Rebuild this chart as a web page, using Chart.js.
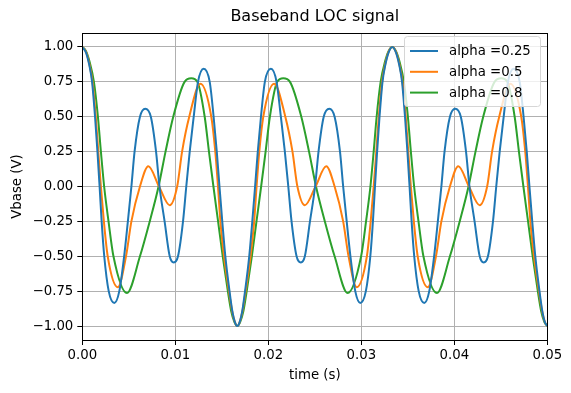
<!DOCTYPE html>
<html>
<head>
<meta charset="utf-8">
<script src="https://cdn.jsdelivr.net/npm/chart.js@4.4.0/dist/chart.umd.min.js"></script>
<style>
  html, body { margin: 0; padding: 0; background: #fff; }
  canvas { display: block; }
</style>
</head>
<body>
<canvas id="chart" width="571" height="393"></canvas>
<script>
const seriesLabels = ["alpha =0.25", "alpha =0.5", "alpha =0.8"];
const seriesColors = ["#1f77b4", "#ff7f0e", "#2ca02c"];

// time in ms
const timeA = [0, 0.4, 0.75, 1.05, 1.37, 1.63, 1.86, 2.08, 2.36, 2.84, 3.44, 3.98, 4.5, 4.9, 5.28, 5.62, 6.2, 6.77, 7.37, 7.93, 8.3, 8.85, 9.4, 9.83, 10.29, 10.83, 11.18, 11.55, 11.98, 12.44, 13.05, 13.7, 14.12, 14.46, 14.75, 15.05, 15.38, 15.83, 16.1, 16.4, 16.67,
  16.93, 17.23, 17.5, 17.95, 18.28, 18.58, 18.87, 19.21, 19.63, 20.28, 20.89, 21.35, 21.78, 22.15, 22.5, 23.04, 23.5, 23.93, 24.48, 25.03, 25.4, 25.96, 26.56, 27.13, 27.71, 28.05, 28.43, 28.83, 29.35, 29.89, 30.49, 30.97, 31.25, 31.47, 31.7, 31.96, 32.28, 32.58, 32.93, 33.33,
  33.73, 34.08, 34.38, 34.7, 34.96, 35.19, 35.41, 35.69, 36.17, 36.77, 37.31, 37.83, 38.23, 38.61, 38.95, 39.53, 40.1, 40.7, 41.26, 41.63, 42.18, 42.73, 43.16, 43.62, 44.16, 44.51, 44.88, 45.31, 45.77, 46.38, 47.03, 47.45, 47.79, 48.08, 48.38, 48.71, 49.16, 49.43, 49.73, 50];
const valuesA = [1, 0.96, 0.87, 0.75, 0.5, 0.25, 0, -0.25, -0.5, -0.75, -0.835, -0.75, -0.5, -0.25, 0, 0.25, 0.5, 0.558, 0.5, 0.25, 0, -0.25, -0.5, -0.544, -0.5, -0.25, 0, 0.25, 0.5, 0.75, 0.844, 0.75, 0.5, 0.25, 0, -0.25, -0.5, -0.75, -0.88, -0.97, -1,
  -0.97, -0.88, -0.75, -0.5, -0.25, 0, 0.25, 0.5, 0.75, 0.844, 0.75, 0.5, 0.25, 0, -0.25, -0.5, -0.544, -0.5, -0.25, 0, 0.25, 0.5, 0.558, 0.5, 0.25, 0, -0.25, -0.5, -0.75, -0.835, -0.75, -0.5, -0.25, 0, 0.25, 0.5, 0.75, 0.87, 0.96, 1,
  0.96, 0.87, 0.75, 0.5, 0.25, 0, -0.25, -0.5, -0.75, -0.835, -0.75, -0.5, -0.25, 0, 0.25, 0.5, 0.558, 0.5, 0.25, 0, -0.25, -0.5, -0.544, -0.5, -0.25, 0, 0.25, 0.5, 0.75, 0.844, 0.75, 0.5, 0.25, 0, -0.25, -0.5, -0.75, -0.88, -0.97, -1];

const timeB = [0, 0.4, 0.75, 1.1, 1.45, 1.72, 2.0, 2.32, 2.73, 3.82, 4.7, 5.28, 6.2, 7.1, 8.25, 9.4, 10.2, 10.73, 11.5, 12.7, 13.87, 14.3, 14.59, 14.85, 15.24, 15.77, 16.1, 16.4, 16.67,
  16.93, 17.23, 17.56, 18.09, 18.48, 18.74, 19.03, 19.46, 20.63, 21.83, 22.6, 23.13, 23.93, 25.08, 26.23, 27.13, 28.05, 28.63, 29.51, 30.6, 31.01, 31.33, 31.61, 31.88, 32.23, 32.58, 32.93, 33.33,
  33.73, 34.08, 34.43, 34.78, 35.05, 35.33, 35.65, 36.06, 37.15, 38.03, 38.61, 39.53, 40.43, 41.58, 42.73, 43.53, 44.06, 44.83, 46.03, 47.2, 47.63, 47.92, 48.18, 48.57, 49.1, 49.43, 49.73, 50];
const valuesB = [1, 0.965, 0.88, 0.75, 0.5, 0.25, 0, -0.25, -0.5, -0.722, -0.5, -0.25, 0, 0.145, 0, -0.134, 0, 0.25, 0.5, 0.737, 0.5, 0.25, 0, -0.25, -0.5, -0.75, -0.89, -0.97, -1,
  -0.97, -0.89, -0.75, -0.5, -0.25, 0, 0.25, 0.5, 0.737, 0.5, 0.25, 0, -0.134, 0, 0.145, 0, -0.25, -0.5, -0.722, -0.5, -0.25, 0, 0.25, 0.5, 0.75, 0.88, 0.965, 1,
  0.965, 0.88, 0.75, 0.5, 0.25, 0, -0.25, -0.5, -0.722, -0.5, -0.25, 0, 0.145, 0, -0.134, 0, 0.25, 0.5, 0.737, 0.5, 0.25, 0, -0.25, -0.5, -0.75, -0.89, -0.97, -1];

const timeC = [0, 0.4, 0.8, 1.25, 1.68, 2.0, 2.35, 2.82, 3.35, 4.8, 6.2, 7.25, 8.2, 8.95, 9.78, 11.0, 11.72, 12.37, 13.16, 13.62, 14.1, 14.6, 15.1, 15.65, 16.0, 16.35, 16.67,
  16.98, 17.33, 17.68, 18.23, 18.73, 19.23, 19.71, 20.17, 20.96, 21.61, 22.33, 23.55, 24.38, 25.13, 26.08, 27.13, 28.53, 29.98, 30.51, 30.98, 31.33, 31.65, 32.08, 32.53, 32.93, 33.33,
  33.73, 34.13, 34.58, 35.01, 35.33, 35.68, 36.15, 36.68, 38.13, 39.53, 40.58, 41.53, 42.28, 43.11, 44.33, 45.05, 45.7, 46.49, 46.95, 47.43, 47.93, 48.43, 48.98, 49.33, 49.68, 50];
const valuesC = [1, 0.97, 0.89, 0.75, 0.5, 0.25, 0, -0.25, -0.5, -0.763, -0.5, -0.25, 0, 0.25, 0.5, 0.75, 0.775, 0.75, 0.5, 0.25, 0, -0.25, -0.5, -0.75, -0.89, -0.97, -1,
  -0.97, -0.89, -0.75, -0.5, -0.25, 0, 0.25, 0.5, 0.75, 0.775, 0.75, 0.5, 0.25, 0, -0.25, -0.5, -0.763, -0.5, -0.25, 0, 0.25, 0.5, 0.75, 0.89, 0.97, 1,
  0.97, 0.89, 0.75, 0.5, 0.25, 0, -0.25, -0.5, -0.763, -0.5, -0.25, 0, 0.25, 0.5, 0.75, 0.775, 0.75, 0.5, 0.25, 0, -0.25, -0.5, -0.75, -0.89, -0.97, -1];

const xTicks = [0, 0.01, 0.02, 0.03, 0.04, 0.05];
const yTicks = [-1, -0.75, -0.5, -0.25, 0, 0.25, 0.5, 0.75, 1];

const FONT = "'DejaVu Sans', sans-serif";

function toPoints(times, values) {
  return times.map((t, i) => ({ x: t / 1000, y: values[i] }));
}

const allSeries = [[timeA, valuesA], [timeB, valuesB], [timeC, valuesC]];

const datasets = allSeries.map((s, i) => ({
  label: seriesLabels[i],
  data: toPoints(s[0], s[1]),
  borderColor: seriesColors[i],
  borderWidth: 2,
  pointRadius: 0,
  fill: false,
  cubicInterpolationMode: "monotone",
}));

const fmt = (v) => v.toFixed(2).replace("-", "\u2212");

const decor = {
  id: "decor",
  afterDraw(chart) {
    const ctx = chart.ctx;
    const a = chart.chartArea;
    ctx.save();
    // frame
    ctx.strokeStyle = "#000";
    ctx.lineWidth = 1;
    ctx.strokeRect(Math.round(a.left) + 0.5, Math.round(a.top) + 0.5, Math.round(a.right - a.left), Math.round(a.bottom - a.top));

    ctx.fillStyle = "#000";
    ctx.textAlign = "center";
    ctx.textBaseline = "middle";
    ctx.font = "16px " + FONT;
    ctx.fillText("Baseband LOC signal", (a.left + a.right) / 2, 17);

    ctx.font = "13.3px " + FONT;
    ctx.fillText("time (s)", (a.left + a.right) / 2, 376);

    ctx.save();
    ctx.translate(18, (a.top + a.bottom) / 2);
    ctx.rotate(-Math.PI / 2);
    ctx.fillText("Vbase (V)", 0, 0);
    ctx.restore();

    // legend box
    const bx = 404.5, by = 36.5, bw = 136, bh = 70;
    ctx.fillStyle = "rgba(255,255,255,0.8)";
    ctx.strokeStyle = "#d6d6d6";
    ctx.beginPath();
    ctx.roundRect(bx, by, bw, bh, 3);
    ctx.fill();
    ctx.stroke();
    ctx.textAlign = "left";
    chart.data.datasets.forEach((ds, i) => {
      const y = 51 + i * 20.8;
      ctx.strokeStyle = ds.borderColor;
      ctx.lineWidth = 2;
      ctx.beginPath();
      ctx.moveTo(410, y);
      ctx.lineTo(438, y);
      ctx.stroke();
      ctx.fillStyle = "#000";
      ctx.fillText(ds.label, 449, y + 1);
    });
    ctx.restore();
  },
};

new Chart(document.getElementById("chart"), {
  type: "line",
  data: { datasets: datasets },
  options: {
    responsive: false,
    animation: false,
    devicePixelRatio: 1,
    layout: { padding: { left: 0, right: 23.7, top: 33, bottom: 0 } },
    plugins: {
      legend: { display: false },
      title: { display: false },
      tooltip: { enabled: false },
    },
    scales: {
      x: {
        type: "linear",
        min: 0,
        max: 0.05,
        afterFit: (s) => { s.height = 53; },
        afterBuildTicks: (s) => { s.ticks = xTicks.map((v) => ({ value: v })); },
        grid: { color: "#b0b0b0", lineWidth: 1, tickColor: "#000", tickLength: 5 },
        border: { display: false },
        ticks: { color: "#000", font: { family: FONT, size: 13.3 }, padding: 3, maxRotation: 0, callback: (v) => fmt(v) },
      },
      y: {
        type: "linear",
        min: -1.1,
        max: 1.1,
        afterFit: (s) => { s.width = 82.3; },
        afterBuildTicks: (s) => { s.ticks = yTicks.map((v) => ({ value: v })); },
        grid: { color: "#b0b0b0", lineWidth: 1, tickColor: "#000", tickLength: 5 },
        border: { display: false },
        ticks: { color: "#000", font: { family: FONT, size: 13.3 }, padding: 4, callback: (v) => fmt(v) },
      },
    },
  },
  plugins: [decor],
});
</script>
</body>
</html>
